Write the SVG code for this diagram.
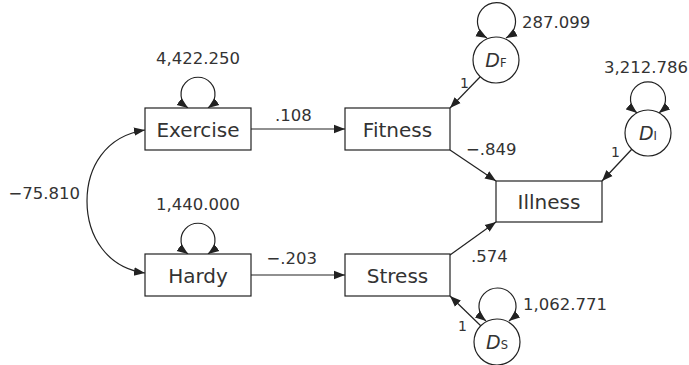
<svg xmlns="http://www.w3.org/2000/svg" width="689" height="365" viewBox="0 0 689 365">
<style>
  .box { fill: #fff; stroke: #222; stroke-width: 1.2; }
  .circ { fill: #fff; stroke: #222; stroke-width: 1.2; }
  .lbl { font-family: "DejaVu Sans", "Liberation Sans", sans-serif; font-size: 20px; fill: #333; text-anchor: middle; }
  .num { font-family: "DejaVu Sans", "Liberation Sans", sans-serif; font-size: 16.5px; fill: #333; }
  .one { font-family: "DejaVu Sans", "Liberation Sans", sans-serif; font-size: 14px; fill: #333; }
  .dv { font-family: "DejaVu Sans", "Liberation Sans", sans-serif; font-size: 19px; font-style: italic; fill: #333; }
  .sub { font-size: 11.5px; font-style: normal; }
  .edge { fill: none; stroke: #222; stroke-width: 1.2; marker-end: url(#ah); }
  .both { fill: none; stroke: #222; stroke-width: 1.2; marker-start: url(#ah); marker-end: url(#ah); }
</style>
<defs>
  <marker id="ah" markerUnits="userSpaceOnUse" markerWidth="13" markerHeight="10" refX="11" refY="4.25" orient="auto-start-reverse" viewBox="0 0 13 8.5">
    <path d="M0,0 L11,4.25 L0,8.5 z" fill="#222"/>
  </marker>
</defs>
<rect width="689" height="365" fill="#fff"/>

<g id="connectors">
  <line class="edge" x1="251" y1="129" x2="345" y2="129"/>
  <line class="edge" x1="251" y1="275" x2="345" y2="275"/>
  <line class="edge" x1="450" y1="150" x2="496" y2="181"/>
  <line class="edge" x1="450" y1="255" x2="496" y2="222"/>
  <line class="edge" x1="480" y1="77" x2="450" y2="108"/>
  <line class="edge" x1="632" y1="149" x2="602" y2="181"/>
  <line class="edge" x1="481" y1="326" x2="450" y2="296"/>
  <path class="both" d="M145,130 C105,136 87,168 87,201 C87,236 107,268 145,273"/>
  <path class="both" d="M188,108 A17 17 0 1 1 208,108"/>
  <path class="both" d="M188,254 A17 17 0 1 1 208,254"/>
  <path class="both" d="M487,38 A19 19 0 1 1 506,38"/>
  <path class="both" d="M637,113 A17.5 17.5 0 1 1 659,113"/>
  <path class="both" d="M486,321 A18.5 18.5 0 1 1 509,321"/>
</g>

<g id="labels">
  <text class="num" x="198" y="64" text-anchor="middle">4,422.250</text>
  <text class="num" x="198" y="210" text-anchor="middle">1,440.000</text>
  <text class="num" x="80" y="199" text-anchor="end">−75.810</text>
  <text class="num" x="275" y="121">.108</text>
  <text class="num" x="317" y="264" text-anchor="end">−.203</text>
  <text class="num" x="466" y="155">−.849</text>
  <text class="num" x="471" y="262">.574</text>
  <text class="num" x="522" y="28">287.099</text>
  <text class="num" x="604" y="73">3,212.786</text>
  <text class="num" x="523" y="310">1,062.771</text>
  <text class="one" x="460" y="88">1</text>
  <text class="one" x="611" y="157">1</text>
  <text class="one" x="458" y="331">1</text>
</g>

<g id="Exercise">
  <rect class="box" x="145" y="108" width="106" height="42"/>
  <text class="lbl" x="198" y="137">Exercise</text>
</g>
<g id="Hardy">
  <rect class="box" x="145" y="254" width="106" height="42"/>
  <text class="lbl" x="198" y="283">Hardy</text>
</g>
<g id="Fitness">
  <rect class="box" x="345" y="108" width="105" height="42"/>
  <text class="lbl" x="397.5" y="137">Fitness</text>
</g>
<g id="Stress">
  <rect class="box" x="345" y="254" width="105" height="42"/>
  <text class="lbl" x="397.5" y="283">Stress</text>
</g>
<g id="Illness">
  <rect class="box" x="496" y="181" width="106" height="41"/>
  <text class="lbl" x="549" y="209">Illness</text>
</g>
<g id="DF">
  <circle class="circ" cx="496" cy="60" r="23"/>
  <text class="dv" x="496" y="67" text-anchor="middle">D<tspan class="sub">F</tspan></text>
</g>
<g id="DI">
  <circle class="circ" cx="648" cy="133" r="23"/>
  <text class="dv" x="648" y="140" text-anchor="middle">D<tspan class="sub">I</tspan></text>
</g>
<g id="DS">
  <circle class="circ" cx="497" cy="342" r="23"/>
  <text class="dv" x="497" y="349" text-anchor="middle">D<tspan class="sub">S</tspan></text>
</g>
</svg>
